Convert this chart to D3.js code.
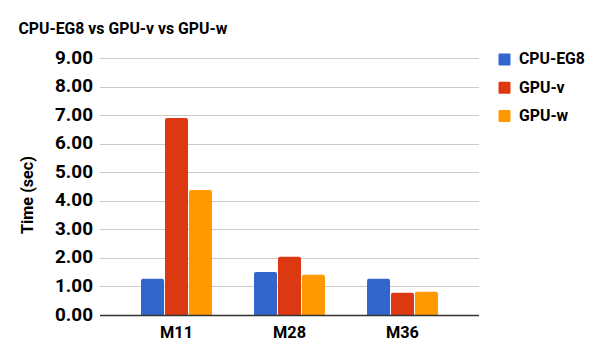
<!DOCTYPE html>
<html><head><meta charset="utf-8">
<script src="https://cdn.jsdelivr.net/npm/d3@7"></script>
<style>body{margin:0;background:#fff}svg{display:block}text{font-family:Roboto,sans-serif;font-weight:bold;fill:#000}</style>
</head><body><svg id="c" width="603" height="360"></svg>
<script>
const categories = ["M11", "M28", "M36"];
const seriesNames = ["CPU-EG8", "GPU-v", "GPU-w"];
const cpuEG8 = [1.27, 1.51, 1.27];
const gpuV = [6.90, 2.04, 0.78];
const gpuW = [4.38, 1.41, 0.81];
const yTicks = [0, 1, 2, 3, 4, 5, 6, 7, 8, 9];
const colors = ["#3366cc", "#dc3912", "#ff9900"];
const seriesValues = [cpuEG8, gpuV, gpuW];

const svg = d3.select("#c");
const plotLeft = 100, plotRight = 479, plotTop = 58, plotBottom = 315;

const x0 = d3.scaleBand().domain(categories).range([plotLeft, plotRight]).paddingInner(0.372).paddingOuter(0.363);
const x1 = d3.scaleBand().domain(seriesNames).range([0, x0.bandwidth()]).paddingInner(0.04);
const y = d3.scaleLinear().domain([0, 9]).range([plotBottom, plotTop]);

function fitSize(sample, target, base) {
  const t = svg.append("text").attr("font-size", base).text(sample);
  const w = t.node().getComputedTextLength();
  t.remove();
  return base * target / w;
}
const tickSize = fitSize("9.00", 38, 15);
const catSize = fitSize("M11", 33, 15);
const titleSize = fitSize("CPU-EG8 vs GPU-v vs GPU-w", 209, 16);
const legendSize = fitSize("CPU-EG8", 66, 15);
const ySize = fitSize("Time (sec)", 78, 15);

// gridlines
svg.append("g").selectAll("line").data(yTicks.filter(d => d > 0)).join("line")
  .attr("x1", plotLeft).attr("x2", plotRight)
  .attr("y1", d => Math.round(y(d)) + 0.5).attr("y2", d => Math.round(y(d)) + 0.5)
  .attr("stroke", "#cccccc").attr("stroke-width", 1);

// y tick labels
svg.append("g").selectAll("text").data(yTicks).join("text")
  .attr("x", 93).attr("y", d => y(d) + 5.5)
  .attr("text-anchor", "end").attr("font-size", tickSize)
  .text(d => d3.format(".2f")(d));

// bars
function barPath(x, y0, w, yTop, r) {
  const h = y0 - yTop;
  r = Math.min(r, h / 2, w / 2);
  return `M${x},${y0}V${yTop + r}Q${x},${yTop} ${x + r},${yTop}H${x + w - r}Q${x + w},${yTop} ${x + w},${yTop + r}V${y0}Z`;
}
const g = svg.append("g");
categories.forEach((cat, i) => {
  seriesNames.forEach((s, j) => {
    const v = seriesValues[j][i];
    g.append("path")
      .attr("d", barPath(x0(cat) + x1(s), y(0), x1.bandwidth(), y(v), 2))
      .attr("fill", colors[j]);
  });
});

// baseline
svg.append("line").attr("x1", plotLeft).attr("x2", plotRight)
  .attr("y1", Math.round(y(0)) + 0.5).attr("y2", Math.round(y(0)) + 0.5)
  .attr("stroke", "#333333").attr("stroke-width", 1.3);

// x labels
svg.append("g").selectAll("text").data(categories).join("text")
  .attr("x", d => x0(d) + x0.bandwidth() / 2).attr("y", 337.5)
  .attr("text-anchor", "middle").attr("font-size", catSize)
  .text(d => d);

// title
svg.append("text").attr("x", 18.5).attr("y", 33.5).attr("font-size", titleSize).text("CPU-EG8 vs GPU-v vs GPU-w");

// y axis title
svg.append("text").attr("transform", "translate(33,195) rotate(-90)")
  .attr("text-anchor", "middle").attr("font-size", ySize).text("Time (sec)");

// legend
const lg = svg.append("g").selectAll("g").data(seriesNames).join("g")
  .attr("transform", (d, i) => `translate(498.5,${53.5 + i * 28.3})`);
lg.append("rect").attr("width", 12).attr("height", 12).attr("rx", 1).attr("fill", (d, i) => colors[i]);
lg.append("text").attr("x", 20.5).attr("y", 10.8).attr("font-size", legendSize).text(d => d);
</script></body></html>
